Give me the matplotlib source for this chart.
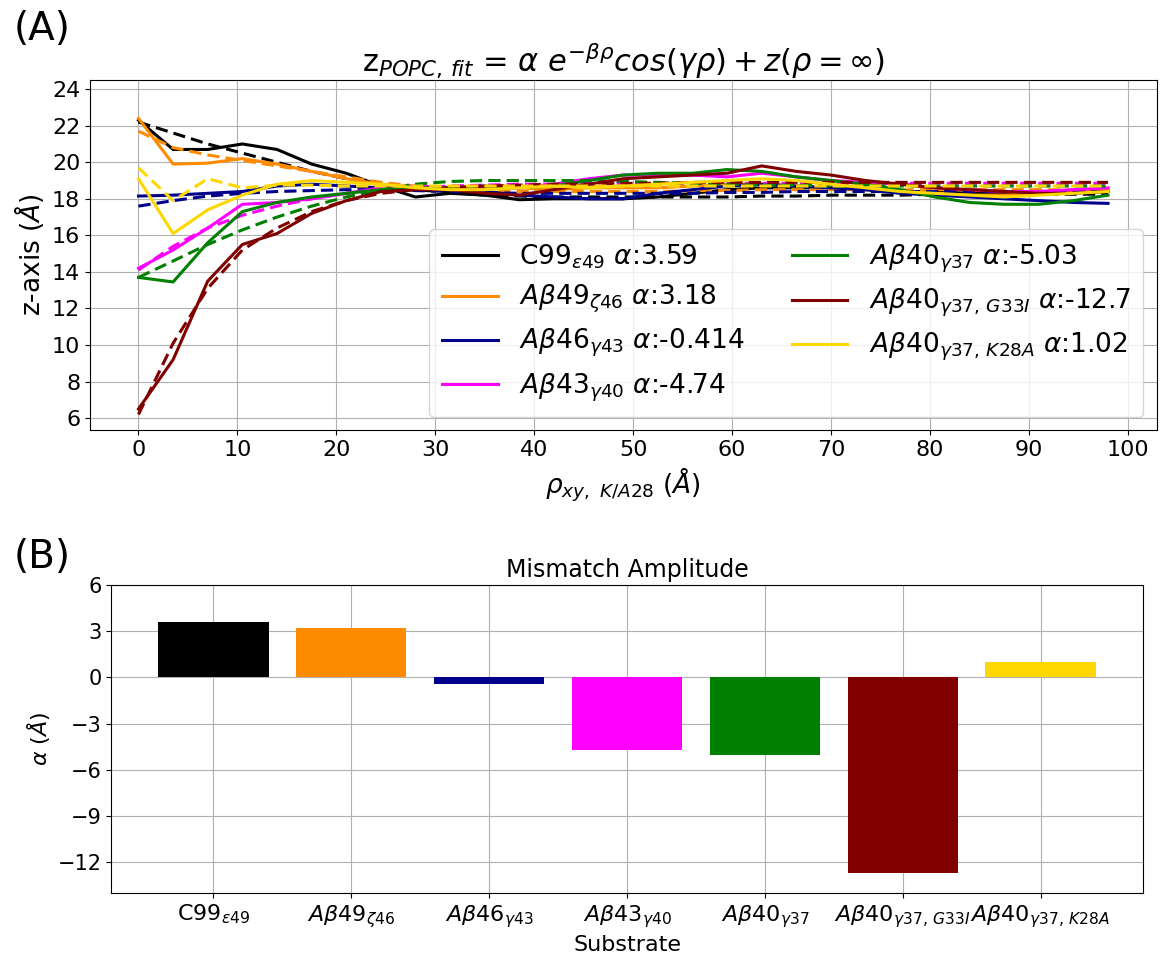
import numpy as np
import matplotlib.pyplot as plt

# radial distance from the K/A28 residue (Å)
rho = np.arange(29) * 3.5

names = [r'C99$_{\varepsilon 49}$', r'$A\beta 49_{\zeta 46}$', r'$A\beta 46_{\gamma 43}$',
         r'$A\beta 43_{\gamma 40}$', r'$A\beta 40_{\gamma 37}$', r'$A\beta 40_{\gamma 37,\,G33I}$',
         r'$A\beta 40_{\gamma 37,\,K28A}$']
alphas = [3.59, 3.18, -0.414, -4.74, -5.03, -12.7, 1.02]
colors = ['black', 'darkorange', 'darkblue', 'magenta', 'green', 'maroon', 'gold']

# membrane surface height (z, Å) vs rho
z_c99 = [22.3, 20.7, 20.7, 21.0, 20.7, 19.9, 19.4, 18.7, 18.1, 18.3, 18.2, 17.95, 18.0, 18.0, 18.0,
         18.1, 18.3, 18.5, 18.6, 18.6, 18.6, 18.5, 18.4, 18.4, 18.3, 18.3, 18.3, 18.4, 18.4]
z_ab49 = [22.4, 19.9, 19.95, 20.2, 19.9, 19.5, 19.1, 18.8, 18.6, 18.5, 18.6, 18.6, 18.5, 18.6, 18.6,
          18.6, 18.7, 18.8, 18.8, 18.7, 18.6, 18.6, 18.4, 18.3, 18.2, 18.2, 18.3, 18.4, 18.5]
z_ab46 = [18.15, 18.2, 18.3, 18.4, 18.7, 18.8, 18.7, 18.6, 18.5, 18.5, 18.4, 18.2, 18.1, 18.0, 18.0,
          18.3, 18.5, 18.7, 18.8, 18.7, 18.6, 18.5, 18.3, 18.2, 18.1, 18.0, 17.9, 17.8, 17.75]
z_ab43 = [14.2, 15.2, 16.4, 17.7, 17.8, 18.0, 18.3, 18.6, 18.7, 18.6, 18.6, 18.6, 18.8, 19.1, 19.3,
          19.3, 19.3, 19.2, 19.4, 19.2, 19.0, 18.9, 18.8, 18.6, 18.5, 18.4, 18.4, 18.5, 18.6]
z_ab40 = [13.7, 13.45, 15.6, 17.3, 17.8, 18.1, 18.3, 18.5, 18.6, 18.6, 18.7, 18.6, 18.7, 19.0, 19.3,
          19.4, 19.4, 19.6, 19.5, 19.2, 19.0, 18.8, 18.5, 18.1, 17.8, 17.7, 17.7, 17.9, 18.2]
z_g33i = [6.5, 9.2, 13.5, 15.5, 16.1, 17.2, 17.9, 18.4, 18.5, 18.5, 18.3, 18.2, 18.5, 18.8, 19.1,
          19.2, 19.3, 19.4, 19.8, 19.5, 19.3, 19.0, 18.8, 18.6, 18.5, 18.4, 18.3, 18.3, 18.4]
z_k28a = [19.1, 16.1, 17.4, 18.2, 18.8, 19.0, 18.9, 18.8, 18.6, 18.5, 18.5, 18.6, 18.7, 18.6, 18.7,
          18.8, 18.9, 19.0, 19.1, 19.0, 18.8, 18.6, 18.4, 18.3, 18.2, 18.1, 18.2, 18.3, 18.4]

# fitted curves at the same rho
f_c99 = [22.2, 21.6, 21.0, 20.5, 20.0, 19.5, 19.1, 18.8, 18.5, 18.35, 18.2, 18.15, 18.1, 18.1, 18.1,
         18.1, 18.1, 18.1, 18.15, 18.15, 18.2, 18.2, 18.2, 18.25, 18.25, 18.25, 18.25, 18.25, 18.25]
f_ab49 = [21.7, 20.8, 20.4, 20.1, 19.8, 19.5, 19.2, 18.9, 18.7, 18.55, 18.45, 18.4, 18.4, 18.4, 18.4,
          18.4, 18.45, 18.45, 18.5, 18.5, 18.5, 18.5, 18.5, 18.5, 18.5, 18.5, 18.5, 18.5, 18.5]
f_ab46 = [17.6, 17.9, 18.15, 18.3, 18.4, 18.45, 18.5, 18.5, 18.45, 18.4, 18.35, 18.3, 18.3, 18.3, 18.3,
          18.3, 18.3, 18.35, 18.35, 18.4, 18.4, 18.4, 18.4, 18.4, 18.4, 18.4, 18.4, 18.4, 18.4]
f_ab43 = [14.1, 15.4, 16.4, 17.1, 17.6, 18.0, 18.3, 18.5, 18.6, 18.7, 18.75, 18.8, 18.8, 18.85, 18.85,
          18.85, 18.85, 18.85, 18.85, 18.85, 18.85, 18.85, 18.85, 18.85, 18.85, 18.85, 18.85, 18.85, 18.85]
f_ab40 = [13.7, 14.6, 15.5, 16.3, 17.0, 17.6, 18.1, 18.5, 18.8, 18.95, 19.0, 19.0, 19.0, 19.0, 18.95,
          18.9, 18.85, 18.8, 18.75, 18.75, 18.7, 18.7, 18.7, 18.7, 18.7, 18.7, 18.7, 18.7, 18.7]
f_g33i = [6.2, 10.1, 13.1, 15.2, 16.4, 17.3, 17.9, 18.3, 18.5, 18.6, 18.7, 18.75, 18.8, 18.8, 18.85,
          18.85, 18.9, 18.9, 18.9, 18.9, 18.9, 18.9, 18.9, 18.9, 18.9, 18.9, 18.9, 18.9, 18.9]
f_k28a = [19.7, 17.9, 19.1, 18.6, 18.75, 18.75, 18.7, 18.7, 18.7, 18.7, 18.7, 18.7, 18.7, 18.7, 18.7,
          18.7, 18.7, 18.7, 18.7, 18.7, 18.7, 18.7, 18.7, 18.7, 18.7, 18.7, 18.7, 18.7, 18.7]

z_data = [z_c99, z_ab49, z_ab46, z_ab43, z_ab40, z_g33i, z_k28a]
z_fits = [f_c99, f_ab49, f_ab46, f_ab43, f_ab40, f_g33i, f_k28a]

fig = plt.figure(figsize=(11.6, 9.56), dpi=100)

ax1 = fig.add_axes([0.0776, 0.5502, 0.9194, 0.3661])
for name, a, c, zd, zf in zip(names, alphas, colors, z_data, z_fits):
    ax1.plot(rho, zd, color=c, lw=2.2, label=name + r' $\alpha$:' + str(a))
    ax1.plot(rho, zf, color=c, lw=2.2, ls='--', dashes=(4, 2))
ax1.set_ylim(5.35, 24.5)
ax1.set_yticks(range(6, 25, 2))
ax1.set_xticks(range(0, 101, 10))
ax1.tick_params(labelsize=16)
ax1.grid(True)
ax1.set_xlabel(r'$\rho_{xy,\ K/A28}$ ($\AA$)', fontsize=19)
ax1.set_ylabel(r'z-axis ($\AA$)', fontsize=19)
ax1.set_title(r'z$_{POPC,\,fit}$ = $\alpha\ e^{-\beta\rho}cos(\gamma\rho) + z(\rho=\infty)$', fontsize=22)
ax1.legend(loc='lower right', ncol=2, fontsize=19, handlelength=2.1, columnspacing=1.8,
           labelspacing=0.45, borderpad=0.5)

ax2 = fig.add_axes([0.0961, 0.0659, 0.8889, 0.3221])
ax2.bar(range(len(names)), alphas, color=colors, width=0.8, zorder=3)
ax2.set_xticks(range(len(names)))
ax2.set_xticklabels(names, fontsize=16)
ax2.set_ylim(-14, 6)
ax2.set_yticks(range(-12, 7, 3))
ax2.tick_params(axis='y', labelsize=15)
ax2.grid(True)
ax2.set_xlabel('Substrate', fontsize=16)
ax2.set_ylabel(r'$\alpha$ ($\AA$)', fontsize=16)
ax2.set_title('Mismatch Amplitude', fontsize=17)

fig.text(0.012, 0.99, '(A)', fontsize=28, va='top')
fig.text(0.012, 0.437, '(B)', fontsize=28, va='top')

fig.savefig('out.png')
